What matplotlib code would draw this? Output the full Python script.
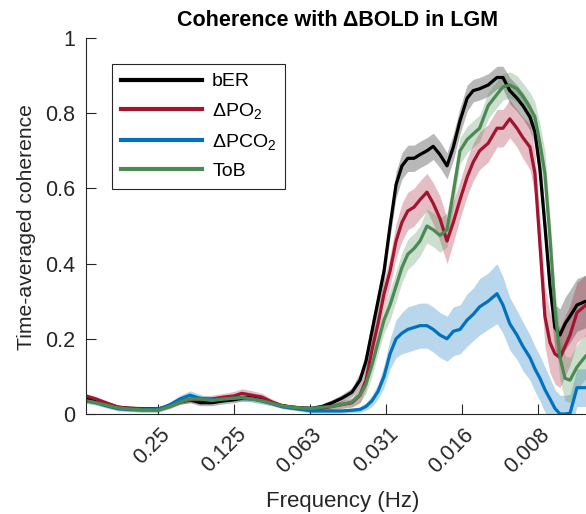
#!/usr/bin/env python

import numpy as np
import matplotlib
matplotlib.use('Agg')
import matplotlib.pyplot as plt
from matplotlib import rc
from matplotlib.transforms import ScaledTranslation

font = {'family': 'sans-serif', 'sans-serif': ['Liberation Sans', 'DejaVu Sans'], 'size': 14}
rc('font', **font)
rc('mathtext', fontset='custom', rm='Liberation Sans', it='Liberation Sans:italic', bf='Liberation Sans:bold')

# frequency axis (Hz)
freq = [0.482, 0.440, 0.402, 0.360, 0.323, 0.289, 0.250, 0.224, 0.2045, 0.1867,
        0.1705, 0.1528, 0.137, 0.125, 0.1163, 0.106, 0.0968, 0.0884, 0.0807, 0.0736,
        0.0672, 0.0614, 0.0560, 0.0511, 0.0467, 0.0426, 0.0396, 0.0375, 0.0355, 0.0336,
        0.0318, 0.0301, 0.0285, 0.0270, 0.0256, 0.0242, 0.0229, 0.0215, 0.0203, 0.0191,
        0.0179, 0.0169, 0.0159, 0.0149, 0.0141, 0.0133, 0.0123, 0.01135, 0.01075, 0.0101,
        0.00946, 0.00896, 0.0084, 0.00803, 0.00767, 0.00733, 0.0070, 0.00669, 0.00639, 0.0061,
        0.00583, 0.00547, 0.00504, 0.00465]

ber = [0.040, 0.035, 0.028, 0.018, 0.015, 0.014, 0.013, 0.022, 0.032, 0.038,
       0.030, 0.030, 0.035, 0.038, 0.042, 0.045, 0.040, 0.030, 0.022, 0.018,
       0.016, 0.015, 0.020, 0.030, 0.042, 0.058, 0.090, 0.140, 0.220, 0.300,
       0.380, 0.500, 0.610, 0.660, 0.680, 0.680, 0.690, 0.700, 0.712, 0.690,
       0.660, 0.710, 0.780, 0.840, 0.860, 0.865, 0.875, 0.895, 0.895, 0.860,
       0.840, 0.820, 0.790, 0.750, 0.650, 0.500, 0.340, 0.230, 0.210, 0.240,
       0.260, 0.290, 0.300, 0.290]
ber_err = [0.006, 0.006, 0.006, 0.006, 0.006, 0.006, 0.006, 0.006, 0.006, 0.008,
           0.008, 0.008, 0.008, 0.008, 0.008, 0.008, 0.008, 0.006, 0.006, 0.006,
           0.006, 0.006, 0.006, 0.008, 0.010, 0.012, 0.020, 0.025, 0.030, 0.030,
           0.030, 0.030, 0.035, 0.035, 0.035, 0.035, 0.035, 0.035, 0.035, 0.035,
           0.035, 0.035, 0.035, 0.035, 0.030, 0.030, 0.030, 0.030, 0.030, 0.035,
           0.035, 0.035, 0.035, 0.035, 0.040, 0.050, 0.050, 0.060, 0.070, 0.070,
           0.070, 0.070, 0.070, 0.070]

po2 = [0.048, 0.040, 0.030, 0.018, 0.015, 0.014, 0.013, 0.022, 0.032, 0.038,
       0.038, 0.040, 0.045, 0.048, 0.055, 0.050, 0.045, 0.032, 0.022, 0.018,
       0.016, 0.013, 0.015, 0.020, 0.025, 0.030, 0.050, 0.090, 0.170, 0.240,
       0.320, 0.380, 0.460, 0.510, 0.540, 0.550, 0.570, 0.590, 0.560, 0.520,
       0.460, 0.510, 0.570, 0.630, 0.670, 0.700, 0.720, 0.760, 0.760, 0.785,
       0.760, 0.735, 0.710, 0.640, 0.450, 0.260, 0.190, 0.160, 0.150, 0.180,
       0.210, 0.270, 0.290, 0.280]
po2_err = [0.006, 0.006, 0.006, 0.006, 0.006, 0.006, 0.006, 0.006, 0.006, 0.008,
           0.008, 0.010, 0.010, 0.012, 0.012, 0.012, 0.010, 0.008, 0.006, 0.006,
           0.006, 0.006, 0.006, 0.008, 0.010, 0.012, 0.020, 0.025, 0.030, 0.030,
           0.035, 0.040, 0.045, 0.050, 0.050, 0.050, 0.050, 0.050, 0.055, 0.060,
           0.060, 0.055, 0.050, 0.050, 0.050, 0.050, 0.050, 0.050, 0.050, 0.050,
           0.050, 0.055, 0.060, 0.060, 0.070, 0.080, 0.080, 0.080, 0.080, 0.080,
           0.080, 0.080, 0.080, 0.080]

pco2 = [0.035, 0.030, 0.022, 0.014, 0.012, 0.011, 0.012, 0.025, 0.040, 0.050,
        0.042, 0.038, 0.040, 0.042, 0.043, 0.040, 0.035, 0.028, 0.020, 0.016,
        0.012, 0.008, 0.008, 0.008, 0.008, 0.010, 0.012, 0.020, 0.035, 0.060,
        0.100, 0.160, 0.200, 0.215, 0.225, 0.230, 0.235, 0.235, 0.225, 0.210,
        0.200, 0.220, 0.225, 0.250, 0.265, 0.285, 0.300, 0.320, 0.290, 0.240,
        0.210, 0.180, 0.150, 0.120, 0.095, 0.065, 0.040, 0.015, 0.000, 0.000,
        0.002, 0.070, 0.070, 0.070]
pco2_err = [0.006, 0.006, 0.006, 0.006, 0.006, 0.006, 0.006, 0.006, 0.010, 0.012,
            0.010, 0.008, 0.008, 0.008, 0.008, 0.008, 0.008, 0.006, 0.006, 0.006,
            0.006, 0.006, 0.006, 0.006, 0.006, 0.006, 0.008, 0.010, 0.015, 0.020,
            0.030, 0.040, 0.050, 0.055, 0.060, 0.060, 0.060, 0.060, 0.060, 0.060,
            0.060, 0.065, 0.065, 0.070, 0.070, 0.075, 0.075, 0.080, 0.075, 0.070,
            0.065, 0.065, 0.060, 0.060, 0.060, 0.060, 0.055, 0.050, 0.050, 0.050,
            0.050, 0.050, 0.050, 0.050]

tob = [0.035, 0.030, 0.024, 0.016, 0.013, 0.011, 0.010, 0.020, 0.032, 0.040,
       0.040, 0.036, 0.040, 0.042, 0.044, 0.040, 0.035, 0.028, 0.022, 0.018,
       0.016, 0.015, 0.018, 0.020, 0.025, 0.032, 0.050, 0.080, 0.130, 0.190,
       0.250, 0.290, 0.340, 0.390, 0.425, 0.440, 0.460, 0.500, 0.490, 0.475,
       0.490, 0.590, 0.700, 0.730, 0.745, 0.760, 0.820, 0.850, 0.870, 0.875,
       0.865, 0.845, 0.815, 0.790, 0.720, 0.640, 0.470, 0.280, 0.150, 0.095,
       0.090, 0.125, 0.155, 0.170]
tob_err = [0.006, 0.006, 0.006, 0.006, 0.006, 0.006, 0.006, 0.006, 0.006, 0.008,
           0.008, 0.008, 0.008, 0.008, 0.008, 0.008, 0.008, 0.006, 0.006, 0.006,
           0.006, 0.006, 0.006, 0.008, 0.010, 0.012, 0.020, 0.025, 0.030, 0.030,
           0.035, 0.040, 0.040, 0.040, 0.040, 0.040, 0.040, 0.045, 0.045, 0.045,
           0.045, 0.040, 0.035, 0.035, 0.035, 0.035, 0.035, 0.035, 0.035, 0.035,
           0.035, 0.035, 0.040, 0.040, 0.050, 0.060, 0.060, 0.060, 0.060, 0.060,
           0.060, 0.060, 0.060, 0.060]

series = [
    (ber, ber_err, '#000000', 'bER'),
    (po2, po2_err, '#A2142F', r'ΔPO$_\mathregular{2}$'),
    (pco2, pco2_err, '#0072BD', r'ΔPCO$_\mathregular{2}$'),
    (tob, tob_err, '#4B8A52', 'ToB'),
]

xticks = [0.25, 0.125, 0.0625, 0.03125, 0.015625, 0.0078125]
xticklabels = ['0.25', '0.125', '0.063', '0.031', '0.016', '0.008']

fig = plt.figure(figsize=(5.86, 5.14), dpi=100)
ax = fig.add_axes([86/586, 100/514, 514/586, 376/514])

f = np.array(freq)
for y, e, c, lab in series:
    y = np.array(y)
    e = np.array(e)
    ax.fill_between(f, y - e, y + e, color=c, alpha=0.28, lw=0)
for y, e, c, lab in series:
    ax.plot(f, y, color=c, lw=2.3, label=lab)

ax.set_xscale('log', base=2)
ax.set_xlim(0.482, 0.004435)
ax.set_ylim(0, 1)
ax.set_xticks(xticks)
ax.set_xticklabels(xticklabels, rotation=45, ha='right', va='center', rotation_mode='anchor')
ax.minorticks_off()
ax.set_yticks([0, 0.2, 0.4, 0.6, 0.8, 1])
ax.set_yticklabels(['0', '0.2', '0.4', '0.6', '0.8', '1'])
ax.tick_params(direction='in', length=7, width=0.8, colors='#262626', labelcolor='#262626', labelsize=15.5)
ax.tick_params(axis='x', pad=12.5)
ax.tick_params(axis='y', pad=8)
shift = ScaledTranslation(9/100, 0, fig.dpi_scale_trans)
for lbl in ax.get_xticklabels():
    lbl.set_transform(lbl.get_transform() + shift)
for s in ['top', 'right']:
    ax.spines[s].set_visible(False)
for s in ['left', 'bottom']:
    ax.spines[s].set_color('#262626')
    ax.spines[s].set_linewidth(0.8)

ax.set_xlabel('Frequency (Hz)', fontsize=16, color='#262626', labelpad=10)
ax.set_ylabel('Time-averaged coherence', fontsize=15.2, color='#262626')
ax.yaxis.set_label_coords(-0.097, 0.497)
fig.text(338/586, 1 - 20/514, 'Coherence with ΔBOLD in LGM', fontsize=15.5, fontweight='bold',
         ha='center', va='center')

leg = ax.legend(loc='upper left', bbox_to_anchor=(112/586, 1 - 64/514), bbox_transform=fig.transFigure,
                fontsize=14, handlelength=4.2, handletextpad=0.5, labelspacing=0.55,
                fancybox=False, framealpha=1, borderpad=0.45, borderaxespad=0)
leg.get_frame().set_edgecolor('#262626')
leg.get_frame().set_linewidth(0.8)
for line in leg.get_lines():
    line.set_linewidth(3)

plt.savefig('out.png', dpi=100)
plt.close()
